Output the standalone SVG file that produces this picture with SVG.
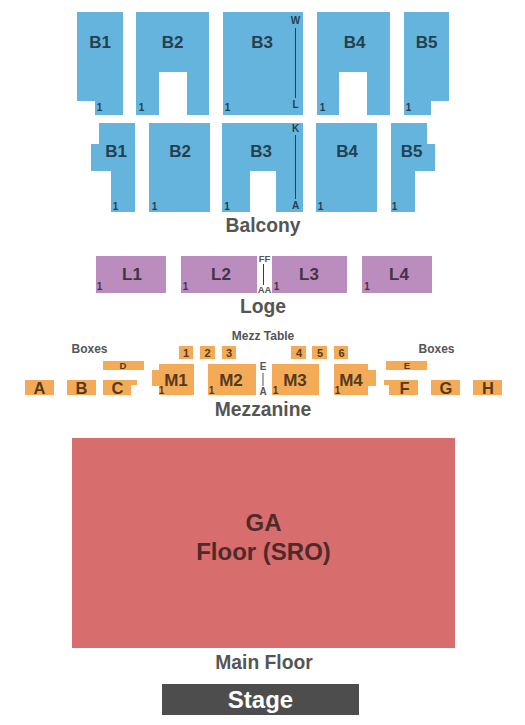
<svg xmlns="http://www.w3.org/2000/svg" width="525" height="725" viewBox="0 0 525 725">
<style>
text{font-family:"Liberation Sans",Arial,sans-serif;font-weight:700;text-anchor:middle}
.b{fill:#65b4dd}.l{fill:#bb8dbe}.m{fill:#f4ab57}
.bt{font-size:17px;fill:#24404f}.lt{font-size:17px;fill:#443344}.mt{font-size:17px;fill:#553a1c}
.box{font-size:16.500px;fill:#553a1c}
.sm{font-size:9.500px;fill:#553a1c}
.s{font-size:10px}.bs{fill:#24404f}.ls{fill:#443344}.ms{fill:#553a1c}
.tt{font-size:11px;fill:#553a1c}
.cap{font-size:19.300px;fill:#555}.g{font-size:12px;fill:#555}
.r{font-size:9.500px;fill:#555}
.ga{font-size:24px;fill:#4f2a2a}
</style>
<rect width="525" height="725" fill="#fff"/>
<g id="B1-upper"><path class="b" d="M77 12H123V115H95V101H77Z"/><text class="bt" x="100" y="48">B1</text><text class="s bs" x="99.500" y="111">1</text></g>
<g id="B2-upper"><path class="b" d="M136 12H209V115H187V72H159V115H136Z"/><text class="bt" x="172.500" y="48">B2</text><text class="s bs" x="141.500" y="111">1</text></g>
<g id="B3-upper"><rect class="b" x="223" y="12" width="80" height="103"/><text class="bt" x="262" y="48">B3</text><text class="s bs" x="227.500" y="111">1</text><text class="s bs" x="295.500" y="24">W</text><text class="s bs" x="295.500" y="108">L</text></g>
<g id="B4-upper"><path class="b" d="M317 12H390V115H367V72H339V115H317Z"/><text class="bt" x="354.500" y="48">B4</text><text class="s bs" x="322.500" y="111">1</text></g>
<g id="B5-upper"><path class="b" d="M404 12H449V101H431V115H404Z"/><text class="bt" x="426.500" y="48">B5</text><text class="s bs" x="408.500" y="111">1</text></g>
<g id="B1-lower"><path class="b" d="M99 123H135V212H111V171H91V144H99Z"/><text class="bt" x="116" y="157">B1</text><text class="s bs" x="115.500" y="210">1</text></g>
<g id="B2-lower"><rect class="b" x="149" y="123" width="61" height="89"/><text class="bt" x="180" y="157">B2</text><text class="s bs" x="154.500" y="210">1</text></g>
<g id="B3-lower"><path class="b" d="M222 123H303V212H276V171H250V212H222Z"/><text class="bt" x="261" y="157">B3</text><text class="s bs" x="227" y="210">1</text><text class="s bs" x="295.500" y="132">K</text><text class="s bs" x="295.500" y="209">A</text></g>
<g id="B4-lower"><rect class="b" x="316" y="123" width="61" height="89"/><text class="bt" x="347" y="157">B4</text><text class="s bs" x="320.500" y="210">1</text></g>
<g id="B5-lower"><path class="b" d="M391 123H427V144H435V171H415V212H391Z"/><text class="bt" x="411.500" y="157">B5</text><text class="s bs" x="394.500" y="210">1</text></g>
<g id="L1"><rect class="l" x="96" y="256" width="70" height="37"/><text class="lt" x="132" y="280">L1</text><text class="s ls" x="99.500" y="290">1</text></g>
<g id="L2"><rect class="l" x="181" y="256" width="76" height="37"/><text class="lt" x="221" y="280">L2</text><text class="s ls" x="185.500" y="290">1</text></g>
<g id="L3"><rect class="l" x="272" y="256" width="75" height="37"/><text class="lt" x="309" y="280">L3</text><text class="s ls" x="276.500" y="290">1</text></g>
<g id="L4"><rect class="l" x="362" y="256" width="70" height="37"/><text class="lt" x="399" y="280">L4</text><text class="s ls" x="367" y="290">1</text></g>
<g id="loge-rows"><text class="r" x="264.500" y="262">FF</text><text class="r" x="264.500" y="293">AA</text></g>
<g id="T1"><rect class="m" x="179" y="346" width="14" height="13"/><text class="tt" x="186" y="356.500">1</text></g>
<g id="T2"><rect class="m" x="200" y="346" width="15" height="13"/><text class="tt" x="207.500" y="356.500">2</text></g>
<g id="T3"><rect class="m" x="222" y="346" width="14" height="13"/><text class="tt" x="229" y="356.500">3</text></g>
<g id="T4"><rect class="m" x="291" y="346" width="15" height="13"/><text class="tt" x="299" y="356.500">4</text></g>
<g id="T5"><rect class="m" x="312" y="346" width="15" height="13"/><text class="tt" x="320" y="356.500">5</text></g>
<g id="T6"><rect class="m" x="334" y="346" width="14" height="13"/><text class="tt" x="341.500" y="356.500">6</text></g>
<g id="M1"><path class="m" d="M159 364H194V395H159V386H152V370H159Z"/><text class="mt" x="176" y="386">M1</text><text class="s ms" x="161.500" y="394">1</text></g>
<g id="M2"><rect class="m" x="208" y="364" width="48" height="31"/><text class="mt" x="231" y="386">M2</text><text class="s ms" x="211.500" y="394">1</text></g>
<g id="M3"><rect class="m" x="272" y="364" width="47" height="31"/><text class="mt" x="295" y="386">M3</text><text class="s ms" x="275.500" y="394">1</text></g>
<g id="M4"><path class="m" d="M334 364H368V370H376V386H368V395H334Z"/><text class="mt" x="351" y="386">M4</text><text class="s ms" x="337.500" y="394">1</text></g>
<g id="mezz-rows"><text class="s" x="263" y="370" style="fill:#555">E</text><text class="s" x="263" y="395" style="fill:#555">A</text></g>
<g id="D"><rect class="m" x="103" y="361" width="41" height="9"/><text class="sm" x="123" y="369">D</text></g>
<g id="E"><rect class="m" x="386" y="361" width="41" height="9"/><text class="sm" x="407" y="369">E</text></g>
<g id="A"><rect class="m" x="25" y="380" width="29" height="15"/><text class="box" x="39.500" y="394">A</text></g>
<g id="B"><rect class="m" x="67" y="380" width="29" height="15"/><text class="box" x="81.500" y="394">B</text></g>
<g id="C"><path class="m" d="M103 380H137V385H131V395H103Z"/><text class="box" x="117.500" y="394">C</text></g>
<g id="F"><path class="m" d="M384 380H418V395H389V385H384Z"/><text class="box" x="404.500" y="394">F</text></g>
<g id="G"><rect class="m" x="431" y="380" width="29" height="15"/><text class="box" x="446" y="394">G</text></g>
<g id="H"><rect class="m" x="473" y="380" width="29" height="15"/><text class="box" x="488" y="394">H</text></g>
<g id="GA-floor"><rect x="72" y="438" width="383" height="210" fill="#d76d6c"/><text class="ga" x="263.500" y="531">GA</text><text class="ga" x="263.500" y="560">Floor (SRO)</text></g>
<g id="stage"><rect x="162" y="684" width="197" height="31" fill="#4d4d4d"/><text x="260.500" y="708" style="font-size:24px;fill:#fff">Stage</text></g>
<g id="labels">
<text class="cap" x="263" y="232">Balcony</text>
<text class="cap" x="263" y="313">Loge</text>
<text class="cap" x="263" y="416">Mezzanine</text>
<text class="cap" x="264" y="669">Main Floor</text>
<text class="g" x="263" y="340">Mezz Table</text>
<text class="g" x="89.500" y="353">Boxes</text>
<text class="g" x="436.500" y="353">Boxes</text>
</g>
<g id="connectors" stroke-width="1">
<path stroke="#24404f" d="M295.500 28V98M295.500 135V199"/>
<path stroke="#443344" d="M263.500 264V285"/>
<path stroke="#555" d="M263 373V386"/>
</g>
</svg>
